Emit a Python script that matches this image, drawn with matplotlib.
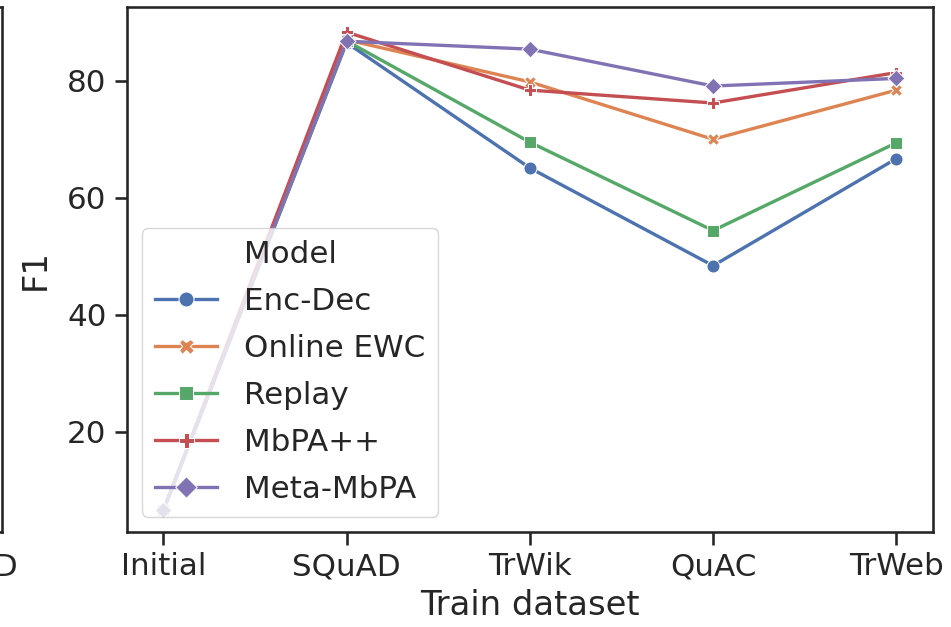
import matplotlib
matplotlib.use("Agg")
import matplotlib.pyplot as plt
from matplotlib.lines import Line2D

# Training stages along the x axis
stages = ["Initial", "SQuAD", "TrWik", "QuAC", "TrWeb"]

# F1 after training on each dataset, per model
enc_dec = [6.6, 86.5, 65.1, 48.4, 66.7]
online_ewc = [6.6, 87.0, 79.8, 70.0, 78.4]
replay = [6.6, 86.8, 69.5, 54.4, 69.4]
mbpa_pp = [6.6, 88.3, 78.4, 76.2, 81.4]
meta_mbpa = [6.6, 86.75, 85.4, 79.1, 80.4]

model_names = ["Enc-Dec", "Online EWC", "Replay", "MbPA++", "Meta-MbPA"]
series = [enc_dec, online_ewc, replay, mbpa_pp, meta_mbpa]
colors = ["#4C72B0", "#DD8452", "#55A868", "#C44E52", "#8172B3"]
markers = ["o", "X", (4, 0, 45), "P", (4, 0, 0)]
marker_sizes = [9.4, 9.2, 12, 9.2, 12.2]
legend_marker_sizes = [10.8, 10.8, 15, 10.8, 15.5]

dark = "#262626"
plt.rcParams.update({
    "font.family": "DejaVu Sans",
    "text.color": dark,
    "axes.labelcolor": dark,
    "axes.edgecolor": dark,
    "axes.linewidth": 1.875,
    "xtick.color": dark,
    "ytick.color": dark,
    "xtick.major.size": 9,
    "ytick.major.size": 9,
    "xtick.major.width": 1.875,
    "ytick.major.width": 1.875,
    "xtick.major.pad": 5.5,
    "ytick.major.pad": 5.5,
    "xtick.labelsize": 22.3,
    "ytick.labelsize": 22.3,
    "axes.labelsize": 24.3,
    "legend.fontsize": 22.3,
})

LW = 2.4

fig = plt.figure(figsize=(9.51, 6.27), dpi=100)
W, H = 951, 627
left, right, top, bottom = 126.7, 933, 7, 532
ax = fig.add_axes([left / W, 1 - bottom / H, (right - left) / W, (bottom - top) / H])

# Neighbouring panel, cut off at the left edge of the figure
nb_right = 2
ax0 = fig.add_axes([-0.9, 1 - bottom / H, 0.9 + nb_right / W, (bottom - top) / H])
ax0.set_xlim(-0.2, 4.2)
ax0.set_xticks([4])
ax0.set_xticklabels(["SQuAD"])
ax0.set_yticks([])
ax0.set_ylim(0, 1)

x = list(range(len(stages)))
for name, vals, c, m, ms in zip(model_names, series, colors, markers, marker_sizes):
    ax.plot(x, vals, color=c, lw=LW, marker=m, markersize=ms,
            markeredgecolor="white", markeredgewidth=0.75, label=name)

ax.set_xticks(x)
ax.set_xticklabels(stages)
ax.set_xlim(-0.2, 4.2)
ax.set_ylim(2.9, 92.6)
ax.set_yticks([20, 40, 60, 80])
ax.set_xlabel("Train dataset", labelpad=6)
ax.set_ylabel("F1", labelpad=11)

# Legend with the hue name as a header row
header = Line2D([], [], color="none", marker=None)
handles = [header] + [
    Line2D([], [], color=c, lw=LW, marker=m, markersize=ms,
           markeredgecolor="white", markeredgewidth=0.75)
    for c, m, ms in zip(colors, markers, legend_marker_sizes)
]
labels = ["Model"] + model_names
leg = ax.legend(handles, labels, loc="lower left", frameon=True,
                fancybox=True, framealpha=0.8, edgecolor="0.8",
                labelspacing=0.58, handletextpad=0.9)

fig.savefig("out.png", dpi=100)
